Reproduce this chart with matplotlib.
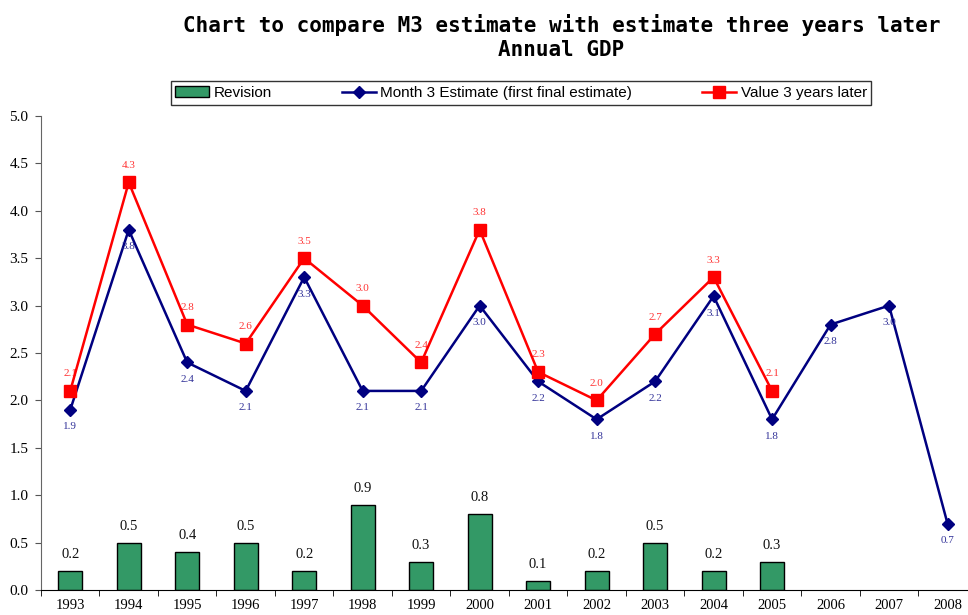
import numpy as np
import matplotlib
matplotlib.use('Agg')
import matplotlib.pyplot as plt
from matplotlib.ticker import FixedLocator

years = ['1993', '1994', '1995', '1996', '1997', '1998', '1999', '2000',
         '2001', '2002', '2003', '2004', '2005', '2006', '2007', '2008']
month3 = [1.9, 3.8, 2.4, 2.1, 3.3, 2.1, 2.1, 3.0, 2.2, 1.8, 2.2, 3.1, 1.8, 2.8, 3.0, 0.7]
later = [2.1, 4.3, 2.8, 2.6, 3.5, 3.0, 2.4, 3.8, 2.3, 2.0, 2.7, 3.3, 2.1]
revision = [0.2, 0.5, 0.4, 0.5, 0.2, 0.9, 0.3, 0.8, 0.1, 0.2, 0.5, 0.2, 0.3]

serif = 'Liberation Serif'
sans = 'Liberation Sans'

fig = plt.figure(figsize=(9.68, 6.15), dpi=100)
ax = fig.add_axes([41 / 968, 25 / 615, 927 / 968, 474 / 615])

x = np.arange(len(years))
x_later = np.arange(len(later))
x_rev = np.arange(len(revision))

bars = ax.bar(x_rev, revision, width=0.41, color='#339966', edgecolor='black',
              linewidth=1.0, label='Revision', zorder=2)
l1, = ax.plot(x, month3, color='#000080', lw=1.8, marker='D', ms=6.5,
              label='Month 3 Estimate (first final estimate)', zorder=3)
l2, = ax.plot(x_later, later, color='#FF0000', lw=1.8, marker='s', ms=8,
              label='Value 3 years later', zorder=4)

# data labels
for xi, v in zip(x_rev, revision):
    ax.annotate(f'{v:.1f}', (xi, v), xytext=(0, 7), textcoords='offset points',
                ha='center', va='bottom', fontsize=10.5, family=serif, color='#111111')
for xi, v in zip(x, month3):
    ax.annotate(f'{v:.1f}', (xi, v), xytext=(0, -9), textcoords='offset points',
                ha='center', va='top', fontsize=8, family=serif, color='#333399')
for xi, v in zip(x_later, later):
    ax.annotate(f'{v:.1f}', (xi, v), xytext=(0, 9), textcoords='offset points',
                ha='center', va='bottom', fontsize=8, family=serif, color='#FF3333')

ax.set_ylim(0, 5.0)
ax.set_xlim(-0.5, 15.35)
yt = np.arange(0, 5.01, 0.5)
ax.set_yticks(yt)
ax.set_yticklabels([f'{t:.1f}' for t in yt], family=serif, fontsize=11)

# year labels at centers, tick marks at category boundaries
ax.set_xticks(x)
ax.set_xticklabels(years, family=serif, fontsize=10.5)
ax.tick_params(axis='x', which='major', length=0, pad=6.5)
ax.xaxis.set_minor_locator(FixedLocator(np.arange(-0.5, 16, 1)))
ax.tick_params(axis='x', which='minor', length=4, direction='out', color='black')
ax.tick_params(axis='y', length=4, direction='out', color='#555555', pad=5)

for s in ['top', 'right']:
    ax.spines[s].set_visible(False)
ax.spines['left'].set_color('#666666')
ax.spines['bottom'].set_color('black')

fig.text(0.58, 1 - 37 / 615, 'Chart to compare M3 estimate with estimate three years later\nAnnual GDP',
         ha='center', va='center', family='DejaVu Sans Mono', fontsize=15,
         fontweight='bold', linespacing=1.3, color='black')

leg = fig.legend(handles=[bars, l1, l2], loc='center',
                 bbox_to_anchor=(521 / 968, 1 - 93 / 615), ncol=3,
                 prop={'family': sans, 'size': 11}, frameon=True, fancybox=False,
                 edgecolor='black', columnspacing=4.6, handlelength=2.2,
                 handletextpad=0.3, borderpad=0.3, borderaxespad=0)
leg.get_frame().set_linewidth(1.0)

fig.savefig('out.png', dpi=100)
